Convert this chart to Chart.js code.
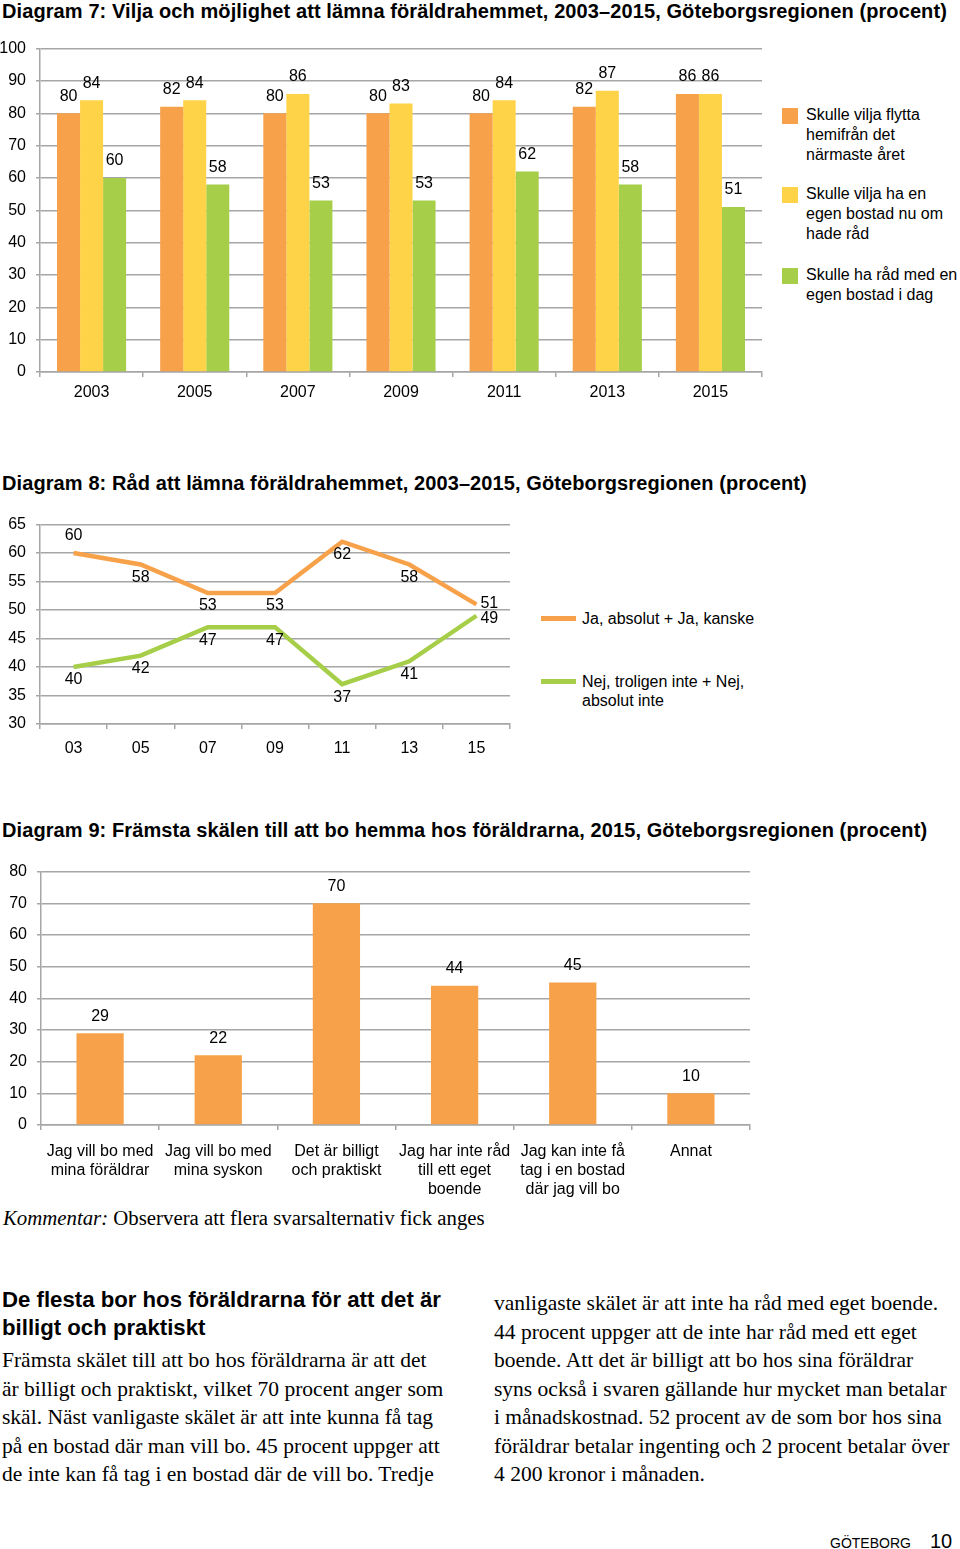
<!DOCTYPE html>
<html lang="sv">
<head>
<meta charset="utf-8">
<script src="https://cdn.jsdelivr.net/npm/chart.js@4.4.1/dist/chart.umd.min.js"></script>
<style>
  body { margin: 0; width: 960px; height: 1549px; position: relative; background: #fff;
         font-family: "Liberation Sans", Arial, sans-serif; color: #000; overflow: hidden; }
  .abs { position: absolute; white-space: nowrap; }
  .title { font-weight: bold; font-size: 20px; letter-spacing: 0.1px; line-height: 22px; left: 2px; }
  .leg { font-size: 16px; line-height: 20px; }
  .sw { position: absolute; width: 16px; height: 16px; }
  .serif { font-family: "Liberation Serif", "DejaVu Serif", serif; }
</style>
</head>
<body>

<div class="abs title" style="top:0px">Diagram 7: Vilja och möjlighet att lämna föräldrahemmet, 2003–2015, Göteborgsregionen (procent)</div>
<div class="abs" style="left:0; top:29px; width:770px; height:387px"><canvas id="chart7" width="770" height="387"></canvas></div>
<div id="legend7"></div>

<div class="abs title" style="top:472px">Diagram 8: Råd att lämna föräldrahemmet, 2003–2015, Göteborgsregionen (procent)</div>
<div class="abs" style="left:0; top:505px; width:518px; height:259px"><canvas id="chart8" width="518" height="259"></canvas></div>
<div id="legend8"></div>

<div class="abs title" style="top:819px">Diagram 9: Främsta skälen till att bo hemma hos föräldrarna, 2015, Göteborgsregionen (procent)</div>
<div class="abs" style="left:0; top:852px; width:758px; height:353px"><canvas id="chart9" width="758" height="353"></canvas></div>

<div class="abs serif" style="left:3px; top:1205px; font-size:20.8px; line-height:25px"><i>Kommentar:</i> Observera att flera svarsalternativ fick anges</div>

<div class="abs" style="left:2px; top:1286px; font-size:22.2px; line-height:28px; font-weight:bold">De flesta bor hos föräldrarna för att det är<br>billigt och praktiskt</div>
<div class="abs serif" style="left:2px; top:1346px; font-size:21.5px; line-height:28.6px">Främsta skälet till att bo hos föräldrarna är att det<br>är billigt och praktiskt, vilket 70 procent anger som<br>skäl. Näst vanligaste skälet är att inte kunna få tag<br>på en bostad där man vill bo. 45 procent uppger att<br>de inte kan få tag i en bostad där de vill bo. Tredje</div>
<div class="abs serif" style="left:494px; top:1289px; font-size:21.5px; line-height:28.5px">vanligaste skälet är att inte ha råd med eget boende.<br>44 procent uppger att de inte har råd med ett eget<br>boende. Att det är billigt att bo hos sina föräldrar<br>syns också i svaren gällande hur mycket man betalar<br>i månadskostnad. 52 procent av de som bor hos sina<br>föräldrar betalar ingenting och 2 procent betalar över<br>4 200 kronor i månaden.</div>

<div class="abs" style="left:830px; top:1534px; font-size:14px; line-height:18px">GÖTEBORG</div>
<div class="abs" style="left:930px; top:1529px; font-size:20px; line-height:24px">10</div>

<script>
// Colours
const ORANGE = 'rgb(247, 162, 74)';
const YELLOW = 'rgb(255, 211, 72)';
const GREEN = 'rgb(166, 206, 72)';
const GRID = '#a6a6a6';
const FONT = '"Liberation Sans", Arial, sans-serif';

// Diagram 7 data
const YEARS_7 = ['2003', '2005', '2007', '2009', '2011', '2013', '2015'];
const VILJA_FLYTTA = [80, 82, 80, 80, 80, 82, 86];
const VILJA_EGEN = [84, 84, 86, 83, 84, 87, 86];
const HA_RAD = [60, 58, 53, 53, 62, 58, 51];
const SERIES_7 = [
    ['Skulle vilja flytta', 'hemifrån det', 'närmaste året'],
    ['Skulle vilja ha en', 'egen bostad nu om', 'hade råd'],
    ['Skulle ha råd med en', 'egen bostad i dag'],
];

// Diagram 8 data
const YEARS_8 = ['03', '05', '07', '09', '11', '13', '15'];
const JA = [60, 58, 53, 53, 62, 58, 51];
const NEJ = [40, 42, 47, 47, 37, 41, 49];
const SERIES_8 = [
    ['Ja, absolut + Ja, kanske'],
    ['Nej, troligen inte + Nej,', 'absolut inte'],
];

// Diagram 9 data
const REASONS = [
    ['Jag vill bo med', 'mina föräldrar'],
    ['Jag vill bo med', 'mina syskon'],
    ['Det är billigt', 'och praktiskt'],
    ['Jag har inte råd', 'till ett eget', 'boende'],
    ['Jag kan inte få', 'tag i en bostad', 'där jag vill bo'],
    ['Annat'],
];
const REASON_VALUES = [29, 22, 70, 44, 45, 10];

Chart.defaults.font.family = FONT;
Chart.defaults.font.size = 16;
Chart.defaults.color = '#000';

// Value labels drawn next to each bar / point
const valueLabels = {
    id: 'valueLabels',
    afterDatasetsDraw(chart) {
        const ctx = chart.ctx;
        ctx.save();
        ctx.font = '16px ' + FONT;
        ctx.fillStyle = '#000';
        chart.data.datasets.forEach((ds, i) => {
            chart.getDatasetMeta(i).data.forEach((el, j) => {
                const pos = ds.labelPos ? ds.labelPos[j] : 'top';
                let x = el.x, y = el.y;
                ctx.textAlign = 'center';
                ctx.textBaseline = 'middle';
                if (pos === 'top') y -= 17;
                else if (pos === 'bottom') y += 13;
                else if (pos.startsWith('right')) {
                    x += 4;
                    ctx.textAlign = 'left';
                    if (pos === 'right-up') y -= 1;
                    if (pos === 'right-down') y += 3;
                }
                ctx.fillText(String(ds.data[j]), x, y);
            });
        });
        ctx.restore();
    }
};

function yScale(min, max, step, width) {
    return {
        min: min, max: max,
        ticks: { stepSize: step, padding: 10, font: { size: 16 } },
        grid: { color: GRID, lineWidth: 1.5, tickLength: 4 },
        border: { color: GRID, width: 1.5 },
        afterFit: s => { s.width = width; }
    };
}

function xScale(height, padding) {
    return {
        ticks: { padding: padding, autoSkip: false, maxRotation: 0, font: { size: 16, lineHeight: 1.19 } },
        grid: { display: true, offset: true, drawOnChartArea: false, drawTicks: true, tickLength: 5, color: GRID, lineWidth: 1.5 },
        border: { color: GRID, width: 1.5 },
        afterFit: s => { s.height = height; }
    };
}

const baseOptions = {
    responsive: false,
    animation: false,
    events: [],
    plugins: { legend: { display: false }, tooltip: { enabled: false } },
};

// Diagram 7
new Chart(document.getElementById('chart7'), {
    type: 'bar',
    data: {
        labels: YEARS_7,
        datasets: [
            { data: VILJA_FLYTTA, backgroundColor: ORANGE },
            { data: VILJA_EGEN, backgroundColor: YELLOW },
            { data: HA_RAD, backgroundColor: GREEN },
        ]
    },
    options: {
        ...baseOptions,
        layout: { padding: { top: 5, right: 8, left: 0, bottom: 0 } },
        datasets: { bar: { categoryPercentage: 0.67, barPercentage: 1.0 } },
        scales: { x: xScale(44, 6), y: yScale(0, 100, 10, 40) }
    },
    plugins: [valueLabels]
});

// Diagram 8
new Chart(document.getElementById('chart8'), {
    type: 'line',
    data: {
        labels: YEARS_8,
        datasets: [
            { data: JA, borderColor: ORANGE, borderWidth: 4.5, pointRadius: 0, tension: 0,
              labelPos: ['top', 'bottom', 'bottom', 'bottom', 'bottom', 'bottom', 'right-up'] },
            { data: NEJ, borderColor: GREEN, borderWidth: 4.5, pointRadius: 0, tension: 0,
              labelPos: ['bottom', 'bottom', 'bottom', 'bottom', 'bottom', 'bottom', 'right-down'] },
        ]
    },
    options: {
        ...baseOptions,
        layout: { padding: { top: 5, right: 8, left: 0, bottom: 0 } },
        scales: { x: { ...xScale(40, 10), offset: true }, y: yScale(30, 65, 5, 40) }
    },
    plugins: [valueLabels]
});

// Diagram 9
new Chart(document.getElementById('chart9'), {
    type: 'bar',
    data: {
        labels: REASONS,
        datasets: [{ data: REASON_VALUES, backgroundColor: ORANGE }]
    },
    options: {
        ...baseOptions,
        layout: { padding: { top: 5, right: 8, left: 0, bottom: 0 } },
        datasets: { bar: { categoryPercentage: 1.0, barPercentage: 0.4 } },
        scales: { x: xScale(80, 12), y: yScale(0, 80, 10, 41) }
    },
    plugins: [valueLabels]
});

// HTML legends
function boxLegend(el, names, colors, left, tops) {
    names.forEach((lines, i) => {
        const sw = document.createElement('div');
        sw.className = 'sw';
        sw.style.cssText = `left:${left}px; top:${tops[i] + 3}px; background:${colors[i]}`;
        el.appendChild(sw);
        const t = document.createElement('div');
        t.className = 'abs leg';
        t.style.cssText = `left:${left + 24}px; top:${tops[i]}px`;
        t.innerHTML = lines.join('<br>');
        el.appendChild(t);
    });
}
boxLegend(document.getElementById('legend7'), SERIES_7, [ORANGE, YELLOW, GREEN], 782, [105, 184, 265]);

function lineLegend(el, names, colors, left, tops) {
    names.forEach((lines, i) => {
        const sw = document.createElement('div');
        sw.style.cssText = `position:absolute; left:${left}px; top:${tops[i] + 7}px; width:35px; height:5px; background:${colors[i]}`;
        el.appendChild(sw);
        const t = document.createElement('div');
        t.className = 'abs leg';
        t.style.cssText = `left:${left + 41}px; top:${tops[i]}px; line-height:19px`;
        t.innerHTML = lines.join('<br>');
        el.appendChild(t);
    });
}
lineLegend(document.getElementById('legend8'), SERIES_8, [ORANGE, GREEN], 541, [609, 672]);
</script>
</body>
</html>
